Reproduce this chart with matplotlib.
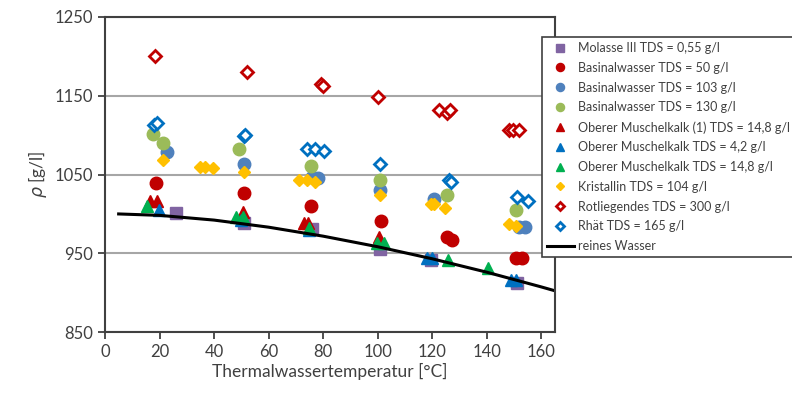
import matplotlib
matplotlib.use("Agg")
import matplotlib.pyplot as plt

plt.rcParams['font.family'] = ['Lato', 'DejaVu Sans']

# Dichte-Messwerte (T in °C, rho in g/l)
molasse_T = [26, 51, 76, 101, 119.5, 151]
molasse_rho = [1001, 988, 981, 956, 942, 912]

basin50_T = [18.7, 50.8, 75.7, 101.3, 125.5, 127.3, 150.6, 152.9]
basin50_rho = [1039, 1026, 1010, 991, 971, 967, 944, 944]

basin103_T = [22.7, 50.8, 76, 78, 101, 120.7, 152, 154]
basin103_rho = [1078, 1064, 1047, 1045, 1031, 1019, 984, 983]

basin130_T = [17.6, 21.3, 49, 75.4, 101, 125.5, 150.6]
basin130_rho = [1102, 1090, 1082, 1061, 1043, 1024, 1005]

om1_T = [16.5, 19, 50.5, 72.8, 74.6, 100.6]
om1_rho = [1016, 1016, 1002, 989, 989, 971]

om42_T = [19.8, 50, 75, 118.1, 120, 148.9, 150.6]
om42_rho = [1005, 992, 979, 944, 944, 916, 916]

om148_T = [15.3, 48, 50.5, 75, 99.9, 102.4, 125.8, 140.5]
om148_rho = [1010, 996, 996, 982, 963, 963, 942, 931]

krist_T = [21.2, 34.7, 36.6, 39.5, 50.8, 71, 73.9, 77.2, 101, 119.6, 120.7, 124.7, 148, 150.6]
krist_rho = [1069, 1060, 1060, 1058, 1053, 1043, 1043, 1040, 1024, 1012, 1012, 1008, 987, 985]

rotl_T = [18.3, 52, 79.4, 80, 100.2, 122.5, 125.5, 126.5, 148, 149.5, 152]
rotl_rho = [1200, 1180, 1165, 1162, 1148, 1132, 1128, 1132, 1107, 1107, 1106]

rhaet_T = [18, 19, 50.8, 51.5, 73.9, 77.2, 80.5, 101, 126.2, 127, 151, 155]
rhaet_rho = [1113, 1116, 1099, 1100, 1083, 1082, 1080, 1063, 1043, 1040, 1021, 1017]

wasser_T = [5, 20, 40, 60, 80, 100, 120, 140, 160, 165]
wasser_rho = [1000.0, 998.2, 992.2, 983.2, 971.8, 958.4, 943.1, 926.1, 907.4, 902.5]

fig = plt.figure(figsize=(7.92, 3.94), dpi=100)
ax = fig.add_axes([0.1326, 0.157, 0.568, 0.8])

ax.plot(molasse_T, molasse_rho, 's', color='#8064A2', ms=8, ls='none', label='Molasse III TDS = 0,55 g/l')
ax.plot(basin50_T, basin50_rho, 'o', color='#C00000', ms=9, ls='none', label='Basinalwasser TDS = 50 g/l')
ax.plot(basin103_T, basin103_rho, 'o', color='#4F81BD', ms=9, ls='none', label='Basinalwasser TDS = 103 g/l')
ax.plot(basin130_T, basin130_rho, 'o', color='#9BBB59', ms=9, ls='none', label='Basinalwasser TDS = 130 g/l')
ax.plot(om1_T, om1_rho, '^', color='#C00000', ms=8, ls='none', label='Oberer Muschelkalk (1) TDS = 14,8 g/l')
ax.plot(om42_T, om42_rho, '^', color='#0070C0', ms=8, ls='none', label='Oberer Muschelkalk TDS = 4,2 g/l')
ax.plot(om148_T, om148_rho, '^', color='#00B050', ms=8, ls='none', label='Oberer Muschelkalk TDS = 14,8 g/l')
ax.plot(krist_T, krist_rho, 'D', color='#FFC000', ms=6, ls='none', label='Kristallin TDS = 104 g/l')
ax.plot(rotl_T, rotl_rho, 'D', mfc='white', mec='#C00000', mew=2, ms=6.5, ls='none', label='Rotliegendes TDS = 300 g/l')
ax.plot(rhaet_T, rhaet_rho, 'D', mfc='white', mec='#0070C0', mew=2, ms=6.5, ls='none', label='Rhät TDS = 165 g/l')
ax.plot(wasser_T, wasser_rho, color='black', lw=2.2, label='reines Wasser')

ax.set_xlim(0, 165)
ax.set_ylim(850, 1250)
ax.set_xticks(range(0, 161, 20))
ax.set_yticks([850, 950, 1050, 1150, 1250])
ax.yaxis.grid(True, color='#a6a6a6', lw=1.5)
ax.set_axisbelow(True)
for s in ax.spines.values():
    s.set_color('#404040')
    s.set_linewidth(1.5)
ax.tick_params(axis='both', colors='#404040', labelcolor='#404040', labelsize=12, width=1.3, length=5)

ax.set_xlabel('Thermalwassertemperatur [°C]', fontsize=12.5, color='#404040', labelpad=2)
ax.set_ylabel(r'$\rho$ [g/l]', fontsize=12.5, color='#404040')

# Legende rechts neben dem Diagramm
leg = ax.legend(loc='upper left', bbox_to_anchor=(0.684, 0.906), bbox_transform=fig.transFigure,
                fontsize=9, frameon=True, fancybox=False, framealpha=1, edgecolor='#404040',
                handlelength=2.2, handletextpad=0.3, labelspacing=0.62, borderaxespad=0, borderpad=0.4,
                markerscale=0.65)
leg.get_frame().set_linewidth(1.2)
for t in leg.get_texts():
    t.set_color('#404040')

fig.savefig('out.png', dpi=100)
